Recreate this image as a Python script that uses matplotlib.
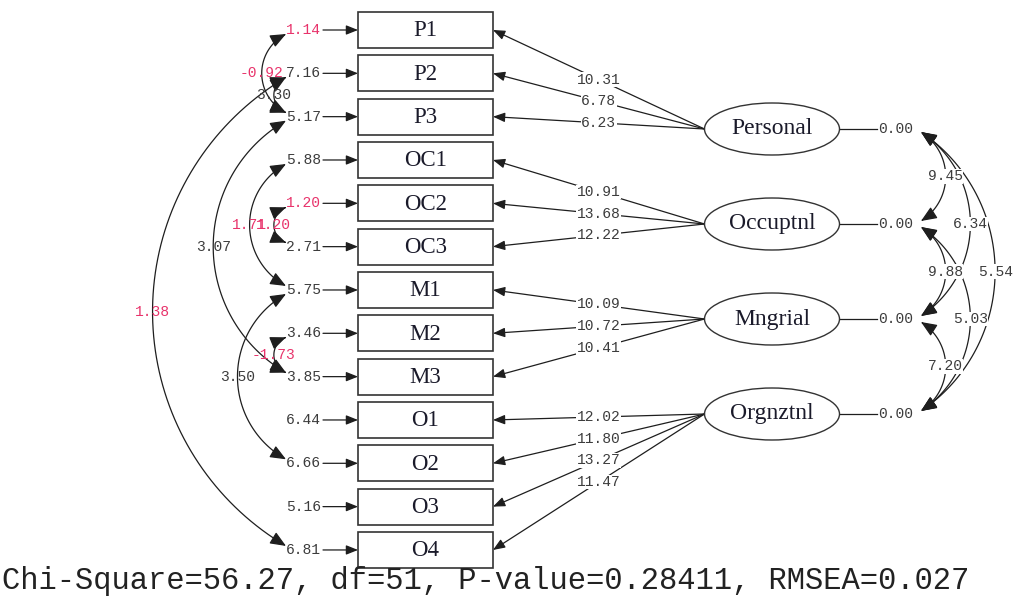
import numpy as np
import matplotlib.pyplot as plt
from matplotlib.patches import Rectangle, Ellipse, FancyArrowPatch
from matplotlib.path import Path

# observed indicators and their t-values
indicators = ['P1', 'P2', 'P3', 'OC1', 'OC2', 'OC3', 'M1', 'M2', 'M3',
              'O1', 'O2', 'O3', 'O4']
error_t = [1.14, 7.16, 5.17, 5.88, 1.20, 2.71, 5.75, 3.46, 3.85,
           6.44, 6.66, 5.16, 6.81]
loading_t = [10.31, 6.78, 6.23, 10.91, 13.68, 12.22, 10.09, 10.72, 10.41,
             12.02, 11.80, 13.27, 11.47]
latent_of = [0, 0, 0, 1, 1, 1, 2, 2, 2, 3, 3, 3, 3]

# latent factors
latents = ['Personal', 'Occuptnl', 'Mngrial', 'Orgnztnl']
latent_var = [0.00, 0.00, 0.00, 0.00]

# correlated errors (indicator i, indicator j, t)
err_pair_a = [0, 1, 1, 2, 3, 4, 7, 6]
err_pair_b = [2, 2, 12, 8, 6, 5, 8, 10]
err_cov_t = [-0.92, 3.30, 1.38, 3.07, 1.71, 1.20, -1.73, 3.50]

# factor covariances
lat_pair_a = [0, 0, 0, 1, 1, 2]
lat_pair_b = [1, 2, 3, 2, 3, 3]
lat_cov_t = [9.45, 6.34, 5.54, 9.88, 5.03, 7.20]

fit_text = 'Chi-Square=56.27, df=51, P-value=0.28411, RMSEA=0.027'

RED = '#e8336b'
GREY = '#3c3c3c'
LINE = '#1e1e1e'
MONO = 'Liberation Mono'
SERIF = 'Liberation Serif'


def tcolor(t):
    # LISREL marks non-significant t-values in red
    return RED if abs(t) < 1.96 else GREY


W, H = 1026, 596
fig = plt.figure(figsize=(W / 100, H / 100), dpi=100)
ax = fig.add_axes([0, 0, 1, 1])
ax.set_xlim(0, W)
ax.set_ylim(H, 0)
ax.axis('off')

# layout
box_x0, box_x1, box_h = 358, 493, 36
row_top, row_gap = 30, 43.33
lat_cx, lat_w, lat_h = 772, 135, 52
lat_top, lat_gap = 129, 95
err_right = 321
arc_left_x = 286
arc_right_x = 921

by = [row_top + i * row_gap for i in range(len(indicators))]
ly = [lat_top + j * lat_gap for j in range(len(latents))]

head = '-|>,head_length=0.55,head_width=0.22'
heads2 = '<|-|>,head_length=0.6,head_width=0.25'


def arrow(p0, p1, ms=14):
    a = FancyArrowPatch(p0, p1, arrowstyle=head, mutation_scale=ms,
                        color=LINE, lw=0.9, shrinkA=0, shrinkB=0, zorder=2)
    ax.add_patch(a)


def arc(x0, ya, yb, side, d):
    y1, y2 = min(ya, yb), max(ya, yb)
    h = (y2 - y1) / 2
    R = (h * h + d * d) / (2 * d)
    ym = (y1 + y2) / 2
    cx = x0 + side * (d - R)
    phi = np.arcsin(min(h / R, 1.0))
    if side < 0:
        t = np.linspace(np.pi + phi, np.pi - phi, 80)
    else:
        t = np.linspace(-phi, phi, 80)
    xs = cx + R * np.cos(t)
    ys = ym + R * np.sin(t)
    p = FancyArrowPatch(path=Path(np.column_stack([xs, ys])), arrowstyle=heads2,
                        mutation_scale=16, color=LINE, lw=0.9, zorder=2)
    ax.add_patch(p)
    return x0 + side * d, ym


# indicator boxes, error terms
for i, name in enumerate(indicators):
    ax.add_patch(Rectangle((box_x0, by[i] - box_h / 2), box_x1 - box_x0, box_h,
                           fill=False, ec='#333333', lw=1.2, zorder=3))
    ax.text((box_x0 + box_x1) / 2, by[i] + 1, name, ha='center', va='center',
            fontsize=16.5, family=SERIF, color='#1a1a2a', zorder=4)
    ax.text(err_right, by[i], f'{error_t[i]:.2f}', ha='right', va='center',
            fontsize=10.5, family=MONO, color=tcolor(error_t[i]), zorder=4)
    arrow((err_right + 2, by[i]), (box_x0, by[i]), ms=13)

# latent ellipses and loadings
for j, name in enumerate(latents):
    ax.add_patch(Ellipse((lat_cx, ly[j]), lat_w, lat_h, fill=False,
                         ec='#333333', lw=1.0, zorder=3))
    ax.text(lat_cx, ly[j], name, ha='center', va='center', fontsize=17,
            family=SERIF, color='#1a1a2a', zorder=4)
    ax.plot([lat_cx + lat_w / 2, 877], [ly[j], ly[j]], color=LINE, lw=0.9)
    ax.text(878, ly[j], f'{latent_var[j]:.2f}', ha='left', va='center',
            fontsize=10.5, family=MONO, color=GREY, zorder=4)

for i in range(len(indicators)):
    j = latent_of[i]
    p0 = (lat_cx - lat_w / 2, ly[j])
    p1 = (box_x1, by[i])
    arrow(p0, p1, ms=13)
    ax.text((p0[0] + p1[0]) / 2, (p0[1] + p1[1]) / 2, f'{loading_t[i]:.2f}',
            ha='center', va='center', fontsize=10.5, family=MONO,
            color=tcolor(loading_t[i]), zorder=4,
            bbox=dict(fc='white', ec='none', pad=0.3))

# correlated errors on the left
for a, b, t in zip(err_pair_a, err_pair_b, err_cov_t):
    bulge = 0.28 * (by[b] - by[a])
    xm, ymid = arc(arc_left_x, by[a] + 4, by[b] - 4, -1, bulge)
    ax.text(xm, ymid, f'{t:.2f}', ha='center', va='center', fontsize=10.5,
            family=MONO, color=tcolor(t), zorder=4)

# factor covariances on the right
for a, b, t in zip(lat_pair_a, lat_pair_b, lat_cov_t):
    bulge = 0.26 * (ly[b] - ly[a])
    xm, ymid = arc(arc_right_x, ly[a] + 3, ly[b] - 3, 1, bulge)
    ax.text(xm, ymid, f'{t:.2f}', ha='center', va='center', fontsize=10.5,
            family=MONO, color=tcolor(t), zorder=4,
            bbox=dict(fc='white', ec='none', pad=0.1))

ax.text(2, 581, fit_text, ha='left', va='center', fontsize=22,
        family=MONO, color='#222222')

fig.savefig('out.png', dpi=100)
